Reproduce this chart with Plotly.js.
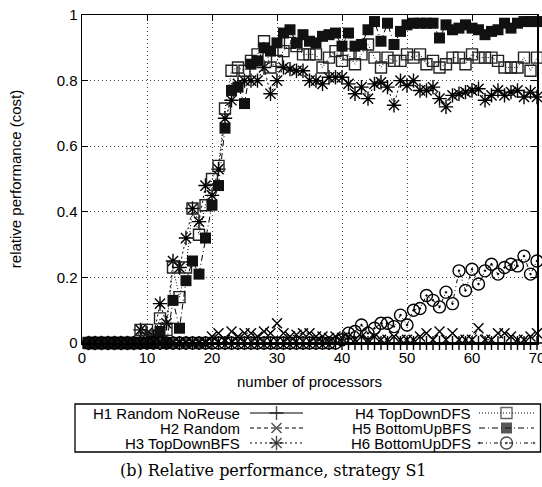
<!DOCTYPE html>
<html><head><meta charset="utf-8">
<script src="https://cdn.plot.ly/plotly-3.0.1.min.js"></script>
<style>html,body{margin:0;padding:0;background:#fff}</style>
</head><body>
<div id="chart" style="width:542px;height:487px"></div>
<script>
// ---- data ----
const processors = [1,2,3,4,5,6,7,8,9,10,11,12,13,14,15,16,17,18,19,20,21,22,23,24,25,26,27,28,29,30,31,32,33,34,35,36,37,38,39,40,41,42,43,44,45,46,47,48,49,50,51,52,53,54,55,56,57,58,59,60,61,62,63,64,65,66,67,68,69,70];
const seriesNames = ["H1 Random NoReuse","H2 Random","H3 TopDownBFS","H4 TopDownDFS","H5 BottomUpBFS","H6 BottomUpDFS"];
const h1RandomNoReuse = [0,0,0,0,0,0,0,0,0,0,0,0,0,0,0,0,0,0,0,0,0,0,0,0,0,0,0,0,0,0,0,0,0,0,0,0,0,0,0,0,0,0,0,0,0,0,0,0,0,0,0,0,0,0,0,0,0,0,0,0,0,0,0,0,0,0,0,0,0,0];
const h2Random = [0,0,0,0,0,0,0,0,0,0,0,0,0,0,0,0,0,0,0,
  0.02,0.03,0.01,0.035,0.02,0.03,0.03,0.02,0.035,0.03,0.06,0.03,0.02,0.025,0.03,0.03,0.02,0.02,0.015,0.02,0.015,
  0.02,0.01,0.02,0.01,0.02,0.01,0.01,0.02,0.01,0.01,0.01,0.02,0.03,0.01,0.035,0.01,0.03,0.01,0.01,0.01,0.045,0.01,0.01,0.03,0.03,0.02,0.01,0.01,0.02,0.03];
const h3TopDownBFS = [0,0,0,0,0,0,0,0,
  0.04,0.03,0.02,0.12,0.06,0.25,0.23,0.32,0.41,0.37,0.48,0.45,0.53,0.685,0.74,0.79,0.80,0.80,0.80,0.84,0.76,0.80,
  0.84,0.835,0.83,0.83,0.80,0.80,0.79,0.81,0.81,0.81,0.79,0.76,0.78,0.745,0.79,0.795,0.78,0.725,0.80,0.785,
  0.80,0.77,0.77,0.78,0.745,0.72,0.755,0.76,0.765,0.77,0.775,0.74,0.755,0.77,0.755,0.765,0.77,0.75,0.765,0.75];
const h4TopDownDFS = [0,0,0,0,0,0,0,0,
  0.04,0.04,0.02,0.075,0.04,0.23,0.14,0.23,0.41,0.33,0.42,0.50,0.54,0.715,0.83,0.84,0.83,0.86,0.88,0.92,0.84,0.86,
  0.89,0.915,0.905,0.88,0.88,0.88,0.84,0.87,0.89,0.86,0.88,0.85,0.88,0.91,0.87,0.84,0.87,0.86,0.86,0.88,
  0.87,0.88,0.85,0.86,0.84,0.85,0.87,0.87,0.85,0.88,0.87,0.87,0.87,0.86,0.84,0.84,0.84,0.87,0.83,0.87];
const h5BottomUpBFS = [0,0,0,0,0,0,0,0,0,0,0,
  0.035,0,0.13,0.045,0.19,0.25,0.21,0.32,0.42,0.48,0.655,0.77,0.78,0.73,0.85,0.86,0.90,0.89,0.915,
  0.945,0.955,0.915,0.94,0.92,0.915,0.935,0.94,0.945,0.905,0.945,0.905,0.91,0.955,0.98,0.92,0.975,0.91,0.95,0.97,
  0.975,0.975,0.975,0.975,0.93,0.97,0.955,0.96,0.97,0.96,0.955,0.94,0.95,0.955,0.975,0.96,0.975,0.98,0.98,0.98];
const h6BottomUpDFS = [0,0,0,0,0,0,0,0,0,0,0,0,0,0,0,0,0,0,0,0,0,0,0,0,0,0,0,0,0,0,0,0,0,0,0,0,0,0,0,0.01,
  0.03,0.035,0.055,0.03,0.045,0.06,0.06,0.05,0.085,0.055,0.10,0.105,0.145,0.13,0.11,0.155,0.12,0.22,0.16,0.225,
  0.18,0.22,0.24,0.21,0.23,0.24,0.235,0.265,0.21,0.25];
const xTickVals = [0,10,20,30,40,50,60,70];
const yTickVals = [0,0.2,0.4,0.6,0.8,1];
const xTitle = "number of processors";
const yTitle = "relative performance (cost)";
const caption = "(b) Relative performance, strategy S1";

// ---- styles ----
const seriesValues = [h1RandomNoReuse,h2Random,h3TopDownBFS,h4TopDownDFS,h5BottomUpBFS,h6BottomUpDFS];
const styles = [
  {dash:"solid", symbol:"cross-thin-open", size:10, lw:1.4, color:"#000"},
  {dash:"4px,3px", symbol:"x-thin-open", size:10, lw:1.4, color:"#000"},
  {dash:"2px,3px", symbol:"asterisk-open", size:12, lw:1.4, color:"#000"},
  {dash:"1px,2px", symbol:"square-open", size:11, lw:1.4, color:"#222"},
  {dash:"6px,3px,1px,3px", symbol:"square", size:11, lw:0, color:"#111"},
  {dash:"4px,3px,1px,3px,1px,3px", symbol:"circle-open-dot", size:12, lw:1.4, color:"#000"}
];
const W = 542, H = 487;
const FONT = "Liberation Sans, Arial, sans-serif";

const traces = seriesValues.map((vals,i)=>({
  type:"scatter", mode:"lines+markers", x:processors, y:vals, name:seriesNames[i],
  cliponaxis:false, showlegend:false, hoverinfo:"skip",
  line:{color:"#000", width:1, dash:styles[i].dash},
  marker:{symbol:styles[i].symbol, size:styles[i].size, color:styles[i].color,
          line:{color:styles[i].color, width:styles[i].lw}}
}));

// legend (drawn in a pixel-unit helper axis pair)
const legendRows = [413, 428, 443];
const legendCols = [{textRight:242, x0:250, x1:303}, {textRight:473, x0:479, x1:534}];
const shapes = [{type:"rect", xref:"paper", yref:"paper", x0:75/W, x1:540.5/W, y0:1-452/H, y1:1-404/H, line:{color:"#000", width:1.3}}];
const annotations = [];
seriesNames.forEach((nm,i)=>{
  const col = legendCols[Math.floor(i/3)], row = legendRows[i%3];
  annotations.push({xref:"paper", yref:"paper", x:col.textRight/W, y:1-row/H, xanchor:"right", yanchor:"middle",
    text:nm, showarrow:false, font:{family:FONT, size:15, color:"#000"}});
  const mid = (col.x0+col.x1)/2;
  traces.push({type:"scatter", mode:"lines+markers", xaxis:"x2", yaxis:"y2",
    x:[col.x0, mid, col.x1], y:[row,row,row], showlegend:false, hoverinfo:"skip", cliponaxis:false,
    line:{color:"#000", width:1, dash:styles[i].dash},
    marker:{symbol:styles[i].symbol, size:[0,styles[i].size,0], color:styles[i].color,
            line:{color:styles[i].color, width:styles[i].lw}}});
});
annotations.push({xref:"paper", yref:"paper", x:273/W, y:1-470/H, xanchor:"center", yanchor:"middle",
  text:caption, showarrow:false, font:{family:"DejaVu Serif, serif", size:16, color:"#000"}});

const axisCommon = {showline:true, linecolor:"#000", linewidth:1.5, mirror:"ticks", ticks:"inside", ticklen:6,
  tickwidth:1, tickcolor:"#000", showgrid:true, gridcolor:"#444", griddash:"1px,3px", gridwidth:1, zeroline:false,
  tickfont:{family:FONT, size:15, color:"#000"}, ticklabeloverflow:"allow"};

const layout = {
  width:W, height:H, margin:{l:0,r:0,t:0,b:0}, paper_bgcolor:"#fff", plot_bgcolor:"rgba(0,0,0,0)",
  showlegend:false,
  xaxis: Object.assign({}, axisCommon, {domain:[82/W, 537/W], range:[0,70], tickvals:xTickVals,
    title:{text:xTitle, font:{family:FONT, size:15, color:"#000"}, standoff:12}, anchor:"y"}),
  yaxis: Object.assign({}, axisCommon, {domain:[1-343/H, 1-15/H], range:[0,1], tickvals:yTickVals,
    title:{text:yTitle, font:{family:FONT, size:15, color:"#000"}, standoff:31}, anchor:"x"}),
  xaxis2:{domain:[0,1], range:[0,W], visible:false, anchor:"y2", fixedrange:true},
  yaxis2:{domain:[0,1], range:[H,0], visible:false, anchor:"x2", fixedrange:true},
  shapes:shapes, annotations:annotations
};
Plotly.newPlot("chart", traces, layout, {staticPlot:true, displayModeBar:false});
</script>
</body></html>
